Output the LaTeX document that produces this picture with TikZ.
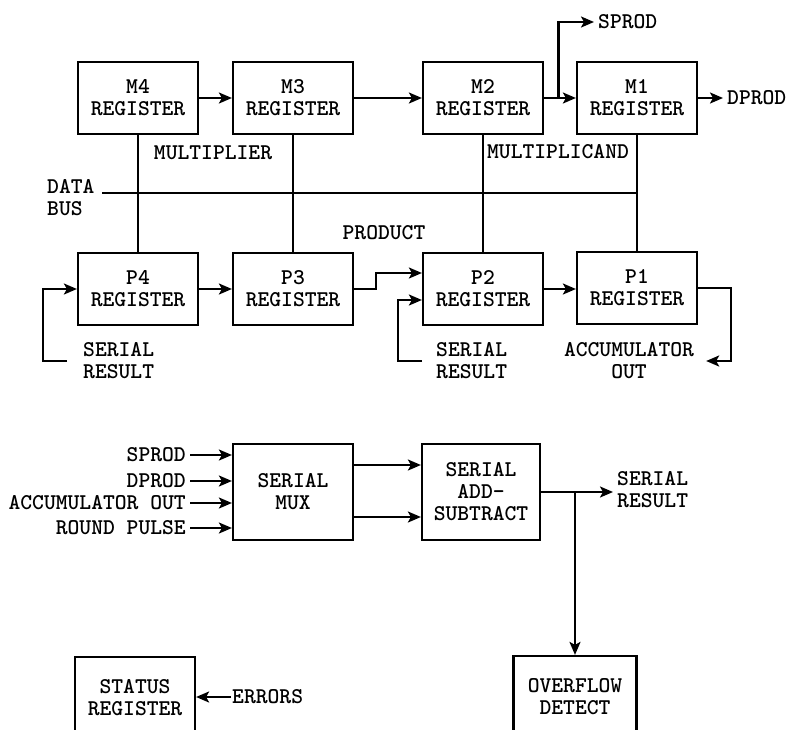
\documentclass[tikz,border=0pt]{standalone}
\usepackage{fontspec}
\newfontfamily\regfont{lmmonolt10-bold.otf}
\usepackage{tikz}
\usetikzlibrary{positioning}
\usetikzlibrary{arrows.meta}

\begin{document}
\begin{tikzpicture}[
  x=1pt, y=-1pt,
  every node/.style={font=\regfont\fontsize{22.5}{22}\selectfont},
  reg/.style={rectangle, draw, line width=2.2pt, minimum width=120pt, minimum height=72pt, align=center, inner sep=0pt},
  blk/.style={reg, minimum height=96pt},
  lbl/.style={inner sep=4pt, align=left},
  wire/.style={line width=2.2pt},
  >={Stealth[length=13pt,width=11pt,inset=3pt]},
]
  \useasboundingbox (0,0) rectangle (790,729);

  \node[reg] (m4) at (138,98) {M4\\REGISTER};
  \node[reg] (m3) at (293,98) {M3\\REGISTER};
  \node[reg] (m2) at (483,98) {M2\\REGISTER};
  \node[reg] (m1) at (637,98) {M1\\REGISTER};

  \node[reg] (p4) at (138,289) {P4\\REGISTER};
  \node[reg] (p3) at (293,289) {P3\\REGISTER};
  \node[reg] (p2) at (483,289) {P2\\REGISTER};
  \node[reg] (p1) at (637,288) {P1\\REGISTER};

  \node[lbl, anchor=west] (sprod) at (594,22) {SPROD};
  \node[lbl, anchor=west] (dprod) at (723,98) {DPROD};
  \node[lbl] (mplier) at (213,153) {MULTIPLIER};
  \node[lbl] (mcand) at (558,152) {MULTIPLICAND};
  \node[lbl, anchor=west] (bus) at (43,198) {DATA\\BUS};
  \node[lbl] (prod) at (384,233) {PRODUCT};
  \node[lbl, anchor=west] (sr4) at (79,361) {SERIAL\\RESULT};
  \node[lbl, anchor=west] (sr2) at (432,361) {SERIAL\\RESULT};
  \node[lbl, align=center] (accout) at (629,361) {ACCUMULATOR\\OUT};

  \node[blk] (mux) at (293,492) {SERIAL\\MUX};
  \node[blk, minimum width=118pt] (addsub) at (481,492) {SERIAL\\ADD-\\SUBTRACT};

  \node[lbl, anchor=east] (insp) at (190,455) {SPROD};
  \node[lbl, anchor=east] (indp) at (190,481) {DPROD};
  \node[lbl, anchor=east] (inacc) at (190,503) {ACCUMULATOR OUT};
  \node[lbl, anchor=east] (inrnd) at (190,528) {ROUND PULSE};

  \node[lbl, anchor=west] (sres) at (613,490) {SERIAL\\RESULT};
  \node[reg, minimum width=123pt, minimum height=82pt] (ovf) at (575,697) {OVERFLOW\\DETECT};
  \node[reg, minimum height=82pt] (status) at (135,698) {STATUS\\REGISTER};
  \node[lbl, anchor=west, inner sep=1pt] (err) at (231,697) {ERRORS};

  \coordinate (busl) at (102,193);
  \path (m2.east) -- (m1.west) coordinate[pos=0.45] (spbr);

  \draw[wire, ->] (m4) -- (m3);
  \draw[wire, ->] (m3) -- (m2);
  \draw[wire, ->] (m2) -- (m1);
  \draw[wire, ->] (spbr) |- (sprod.west);
  \draw[wire, ->] (m1.east) -- (dprod.west);
  \draw[wire] (m4.south) -- (p4.north);
  \draw[wire] (m3.south) -- (p3.north);
  \draw[wire] (m2.south) -- (p2.north);
  \draw[wire] (m1.south) -- (p1.north);
  \draw[wire] (busl) -- (busl -| m1);

  \draw[wire, ->] (p4) -- (p3);
  \draw[wire, ->] (p3.east) -- ++(22,0) |- ([yshift=16pt]p2.west);
  \draw[wire, ->] ([xshift=-12pt]sr4.west) -- ++(-24,0) |- (p4.west);
  \draw[wire, ->] ([xshift=-10pt]sr2.west) -- ++(-24,0) |- ([yshift=-11pt]p2.west);
  \draw[wire, ->] (p2.east) -- (p2.east -| p1.west);
  \draw[wire, ->] (p1.east) -- ++(33,0) |- ([xshift=8pt]accout.east);

  \foreach \n in {insp,indp,inacc,inrnd}
    \draw[wire, ->] (\n.east) -- (\n.east -| mux.west);
  \draw[wire, ->] ([yshift=27pt]mux.east) -- ([yshift=27pt]mux.east -| addsub.west);
  \draw[wire, ->] ([yshift=-25pt]mux.east) -- ([yshift=-25pt]mux.east -| addsub.west);
  \draw[wire, ->] (addsub.east) -- (addsub.east -| sres.west);
  \draw[wire, ->] (addsub.east -| ovf.north) -- (ovf.north);
  \draw[wire, ->] (err.west) -- (err.west -| status.east);
\end{tikzpicture}
\end{document}
